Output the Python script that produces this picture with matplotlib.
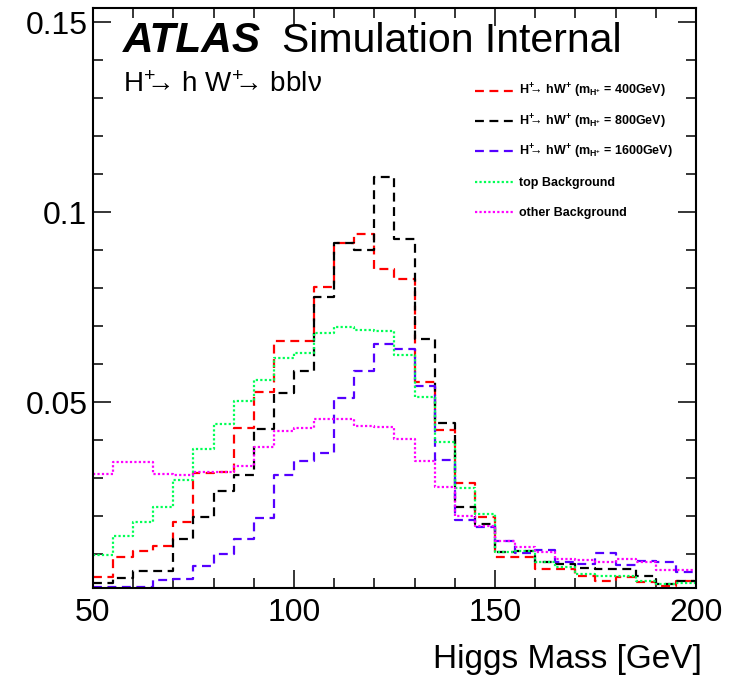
import numpy as np
import matplotlib
matplotlib.use("Agg")
import matplotlib.pyplot as plt
from matplotlib.ticker import MultipleLocator, FuncFormatter

plt.rcParams['font.family'] = ['Liberation Sans', 'DejaVu Sans']
plt.rcParams['mathtext.default'] = 'regular'

# bin edges 50..200 GeV, 5 GeV bins
edges = np.arange(50, 205, 5)

# normalised Higgs mass distributions
sig_400 = [0.0039, 0.0093, 0.0108, 0.0121, 0.0185, 0.0314, 0.0317, 0.0431, 0.0526, 0.0661,
           0.0660, 0.0804, 0.0919, 0.0942, 0.0850, 0.0823, 0.0554, 0.0426, 0.0288, 0.0199,
           0.0093, 0.0092, 0.0060, 0.0061, 0.0043, 0.0030, 0.0039, 0.0028, 0.0015, 0.0030]
sig_800 = [0.0024, 0.0037, 0.0056, 0.0056, 0.0141, 0.0199, 0.0267, 0.0307, 0.0430, 0.0525,
           0.0582, 0.0776, 0.0919, 0.0901, 0.1091, 0.0930, 0.0666, 0.0445, 0.0223, 0.0180,
           0.0105, 0.0108, 0.0079, 0.0075, 0.0064, 0.0061, 0.0060, 0.0043, 0.0021, 0.0030]
sig_1600 = [0.0013, 0.0013, 0.0013, 0.0031, 0.0034, 0.0069, 0.0100, 0.0141, 0.0194, 0.0307,
            0.0346, 0.0366, 0.0511, 0.0582, 0.0653, 0.0640, 0.0543, 0.0347, 0.0190, 0.0171,
            0.0135, 0.0104, 0.0111, 0.0080, 0.0073, 0.0102, 0.0071, 0.0083, 0.0079, 0.0054]
top_bkg = [0.0099, 0.0147, 0.0185, 0.0223, 0.0294, 0.0377, 0.0442, 0.0502, 0.0558, 0.0617,
           0.0630, 0.0683, 0.0698, 0.0689, 0.0687, 0.0624, 0.0513, 0.0394, 0.0275, 0.0206,
           0.0106, 0.0107, 0.0079, 0.0065, 0.0049, 0.0042, 0.0042, 0.0030, 0.0022, 0.0024]
other_bkg = [0.0310, 0.0343, 0.0342, 0.0312, 0.0309, 0.0317, 0.0315, 0.0333, 0.0381, 0.0425,
             0.0432, 0.0455, 0.0455, 0.0436, 0.0434, 0.0403, 0.0345, 0.0276, 0.0200, 0.0173,
             0.0135, 0.0118, 0.0105, 0.0087, 0.0084, 0.0080, 0.0087, 0.0080, 0.0057, 0.0057]

labels = [r'H$^{+}\!\!$→ hW$^{+}$ (m$_{H^{+}}$ = 400GeV)',
          r'H$^{+}\!\!$→ hW$^{+}$ (m$_{H^{+}}$ = 800GeV)',
          r'H$^{+}\!\!$→ hW$^{+}$ (m$_{H^{+}}$ = 1600GeV)',
          'top Background',
          'other Background']
series = [sig_400, sig_800, sig_1600, top_bkg, other_bkg]
colors = ['#ff0000', '#000000', '#5500ff', '#00ff55', '#ff00ff']
dashes = [(4, 2.5), (4, 2.5), (4, 2.5), (1, 1), (1, 1)]

fig = plt.figure(figsize=(7.31, 6.77), dpi=100)
ax = fig.add_axes([0.1272, 0.1315, 0.8249, 0.8567])

for vals, c, d in zip(series, colors, dashes):
    y = np.append(vals, vals[-1])
    ax.plot(edges, y, drawstyle='steps-post', color=c, lw=1.6, dashes=d)

ax.set_xlim(50, 200)
ax.set_ylim(0.0011, 0.1537)

ax.xaxis.set_major_locator(MultipleLocator(50))
ax.xaxis.set_minor_locator(MultipleLocator(10))
ax.yaxis.set_major_locator(MultipleLocator(0.05))
ax.yaxis.set_minor_locator(MultipleLocator(0.01))
ax.yaxis.set_major_formatter(FuncFormatter(lambda v, p: '%g' % round(v, 4)))
ax.tick_params(which='both', direction='in', top=True, right=True, width=1.1)
ax.tick_params(which='major', length=13, labelsize=23)
ax.tick_params(axis='x', which='major', pad=7)
ax.tick_params(axis='y', which='major', pad=4)
ax.tick_params(which='minor', length=7)
for s in ax.spines.values():
    s.set_linewidth(1.5)

ax.set_xlabel('Higgs Mass [GeV]', fontsize=24, ha='right')
ax.xaxis.label.set_va('baseline')
ax.xaxis.set_label_coords(1.01, -0.138)

# ATLAS label
ax.text(0.0498, 0.924, 'ATLAS', transform=ax.transAxes, fontsize=30.5,
        fontweight='bold', fontstyle='italic')
ax.text(0.313, 0.924, 'Simulation Internal', transform=ax.transAxes, fontsize=29.5)
ax.text(0.0498, 0.8557, r'H$^{+}\!\!$→ h W$^{+}\!\!$→ bblν', transform=ax.transAxes,
        fontsize=20)

# legend, drawn row by row
for i, (lab, c, d) in enumerate(zip(labels, colors, dashes)):
    ly = (588 - (90.7 + 30.3 * i)) / 580
    ax.plot([0.6335, 0.696], [ly, ly], transform=ax.transAxes, color=c, lw=1.6,
            dashes=d, clip_on=False)
    ax.text(0.707, ly - 4.3 / 580, lab, transform=ax.transAxes, fontsize=9,
            fontweight='bold', va='baseline')

fig.savefig('out.png', dpi=100)
